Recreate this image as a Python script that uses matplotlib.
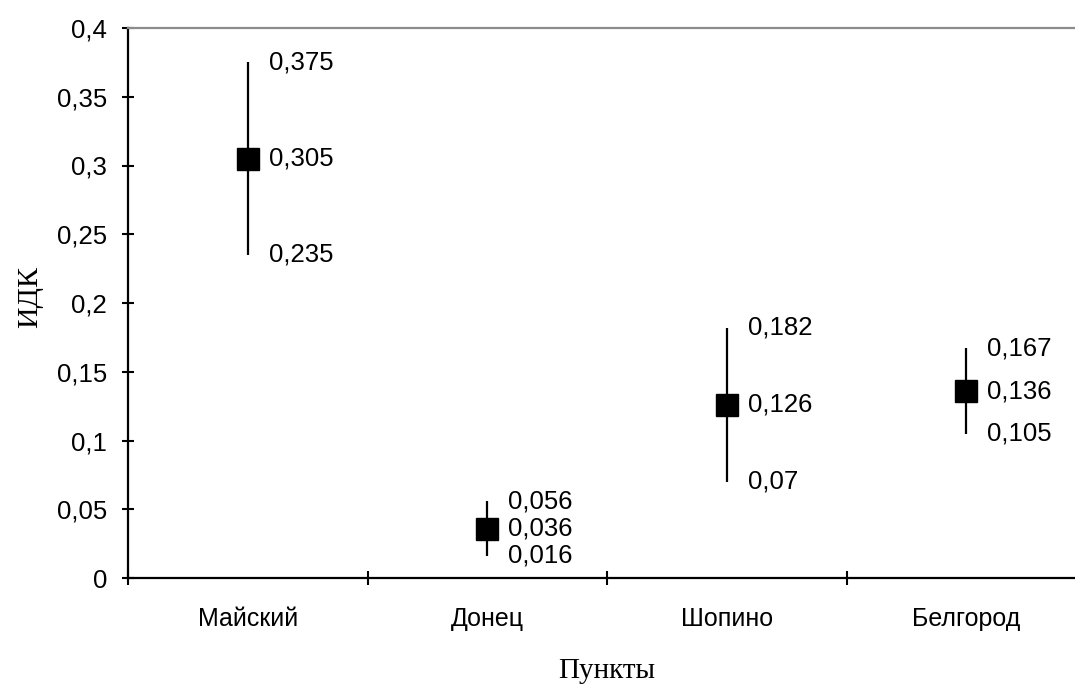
import matplotlib
matplotlib.use("Agg")
import matplotlib.pyplot as plt
import numpy as np

categories = ["Майский", "Донец", "Шопино", "Белгород"]
means = [0.305, 0.036, 0.126, 0.136]
lows = [0.235, 0.016, 0.07, 0.105]
highs = [0.375, 0.056, 0.182, 0.167]
mean_labels = ["0,305", "0,036", "0,126", "0,136"]
low_labels = ["0,235", "0,016", "0,07", "0,105"]
high_labels = ["0,375", "0,056", "0,182", "0,167"]
yticks = [0, 0.05, 0.1, 0.15, 0.2, 0.25, 0.3, 0.35, 0.4]
ytick_labels = ["0", "0,05", "0,1", "0,15", "0,2", "0,25", "0,3", "0,35", "0,4"]

plt.rcParams['font.family'] = ['Liberation Sans', 'DejaVu Sans']

fig = plt.figure(figsize=(10.75, 6.84), dpi=100)
ax = fig.add_axes([128/1075, 1-578/684, (1086-128)/1075, (578-28)/684])

x = np.arange(len(categories))
m = np.array(means)
yerr = np.vstack([m - np.array(lows), np.array(highs) - m])
ax.errorbar(x, m, yerr=yerr, fmt='s', color='black', ecolor='black',
            elinewidth=1.6, markersize=16.5, capsize=0, zorder=3)

for xi, mv, lv, hv, ml, ll, hl in zip(x, means, lows, highs, mean_labels, low_labels, high_labels):
    for val, lab in ((mv, ml), (lv, ll), (hv, hl)):
        ax.annotate(lab, (xi, val), xytext=(15, 0), textcoords='offset points',
                    ha='left', va='center', fontsize=18.5)

ax.set_xlim(-0.5, 3.5)
ax.set_ylim(0, 0.4)
ax.set_yticks(yticks)
ax.set_yticklabels(ytick_labels, fontsize=18.5)
ax.set_xticks(x)
ax.set_xticklabels(categories, fontsize=18)
ax.set_xticks(np.arange(-0.5, 4.0, 1.0), minor=True)
ax.tick_params(axis='x', which='major', length=0, pad=21)
ax.tick_params(axis='x', which='minor', direction='inout', length=10, width=1.5)
ax.tick_params(axis='y', direction='inout', length=8, width=1.5, pad=11)

for s in ('left', 'bottom'):
    ax.spines[s].set_linewidth(1.6)
    ax.spines[s].set_color('black')
ax.spines['right'].set_visible(False)
ax.spines['top'].set_color('#8c8c8c')
ax.spines['top'].set_linewidth(1.6)

ax.set_ylabel("ИДК", family=['Liberation Serif'], fontsize=21.5)
ax.yaxis.set_label_coords(-0.089, 0.51)
ax.set_xlabel("Пункты", family=['Liberation Serif'], fontsize=21, labelpad=19)

fig.savefig("out.png", dpi=100)
